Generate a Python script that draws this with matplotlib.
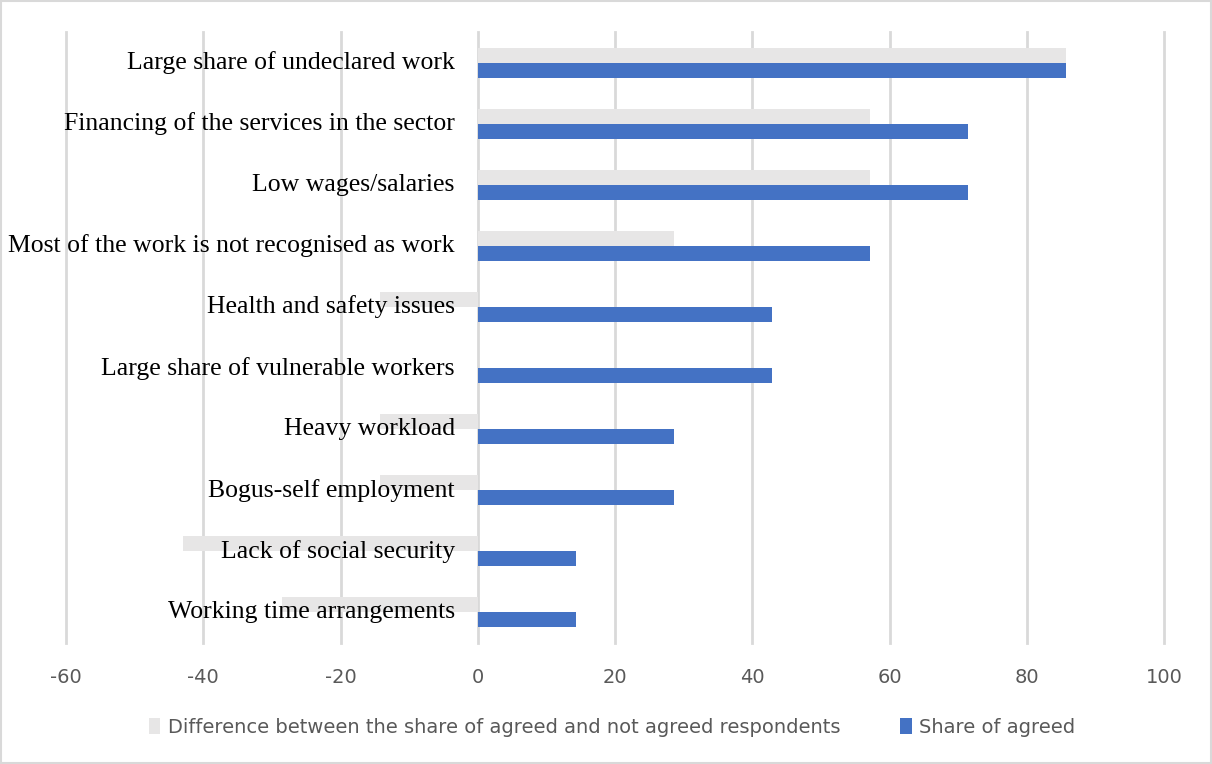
import matplotlib.pyplot as plt
import numpy as np

# Survey results, top to bottom
categories = [
    'Large share of undeclared work',
    'Financing of the services in the sector',
    'Low wages/salaries',
    'Most of the work is not recognised as work',
    'Health and safety issues',
    'Large share of vulnerable workers',
    'Heavy workload',
    'Bogus-self employment',
    'Lack of social security',
    'Working time arrangements',
]
share_agreed = [85.7, 71.4, 71.4, 57.1, 42.9, 42.9, 28.6, 28.6, 14.3, 14.3]
difference = [85.7, 57.1, 57.1, 28.6, -14.3, 0.0, -14.3, -14.3, -42.9, -28.6]
x_ticks = [-60, -40, -20, 0, 20, 40, 60, 80, 100]

GREY = '#e7e6e6'
BLUE = '#4472c4'
TICK_COLOR = '#595959'
GRID_COLOR = '#d9d9d9'
label_font = ['Liberation Serif', 'DejaVu Serif']
tick_font = ['DejaVu Sans']

fig = plt.figure(figsize=(12.12, 7.64), dpi=100)
ax = fig.add_axes([0.0545, 0.1584, 0.906, 0.7997])

y = np.arange(len(categories))
h = 0.245
ax.barh(y - h / 2, difference, height=h, color=GREY, zorder=2,
        label='Difference between the share of agreed and not agreed respondents')
ax.barh(y + h / 2, share_agreed, height=h, color=BLUE, zorder=2,
        label='Share of agreed')

ax.set_xlim(-60, 100)
ax.set_ylim(len(categories) - 0.5, -0.5)
ax.set_xticks(x_ticks)
ax.set_xticklabels([str(t) for t in x_ticks], family=tick_font,
                   fontsize=14, color=TICK_COLOR)
ax.set_yticks([])
ax.tick_params(axis='x', length=0, pad=18)
ax.grid(axis='x', color=GRID_COLOR, linewidth=2, zorder=0)
for line in ax.get_xgridlines():
    line.set_clip_on(False)
for s in ax.spines.values():
    s.set_visible(False)

# category names sit inside the plot, just left of zero
for yi, name in zip(y, categories):
    ax.annotate(name, xy=(0, yi), xytext=(-23, 0), textcoords='offset pixels',
                ha='right', va='center', fontsize=18.5, family=label_font,
                color='black', zorder=5)

leg = fig.legend(loc='center', bbox_to_anchor=(0.505, 0.048), ncol=2,
                 frameon=False, handlelength=0.6, handleheight=0.9,
                 handletextpad=0.4, columnspacing=3.05,
                 prop={'family': tick_font, 'size': 14})
for t in leg.get_texts():
    t.set_color(TICK_COLOR)

# thin border round the whole chart
fig.patches.append(plt.Rectangle((0.001, 0.001), 0.998, 0.998,
                                 transform=fig.transFigure, fill=False,
                                 edgecolor=GRID_COLOR, linewidth=1.5))

fig.savefig('out.png', dpi=100)
